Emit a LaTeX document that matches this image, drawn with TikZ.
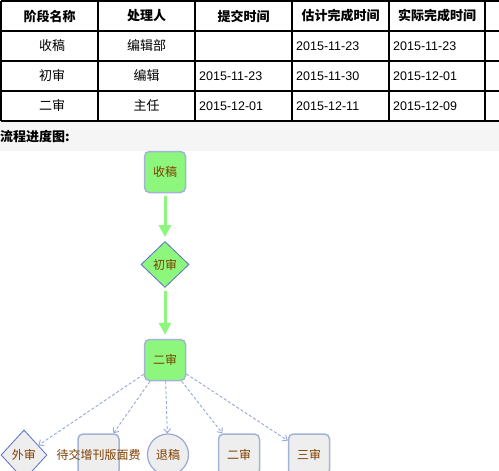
\documentclass[tikz,border=0pt]{standalone}
\usepackage{fontspec}
\setmainfont{Noto Sans CJK SC}
\newfontfamily\datefont{Liberation Sans}
\usetikzlibrary{arrows.meta,shapes.geometric}
\definecolor{stagegreen}{HTML}{8CF77C}
\definecolor{stageborder}{HTML}{A3B3D6}
\definecolor{checkborder}{HTML}{5A6FC8}
\definecolor{stagetext}{HTML}{7F3F00}
\definecolor{linkblue}{HTML}{98A8D8}
\definecolor{bandgray}{HTML}{F5F5F5}
\definecolor{todogray}{HTML}{EEEEEE}

\tikzset{cell/.style={inner sep=0pt,font=\fontsize{13}{15}\selectfont}}
\tikzset{head/.style={cell,font=\fontsize{13}{15}\selectfont\bfseries}}
\tikzset{date/.style={inner sep=0pt,anchor=west,font=\datefont\fontsize{12.5}{15}\selectfont}}
\tikzset{stage/.style={draw=stageborder,line width=1.5pt,rounded corners=5pt,minimum size=41pt,inner sep=0pt,text=stagetext,font=\fontsize{12}{14}\selectfont}}
\tikzset{done/.style={stage,fill=stagegreen}}
\tikzset{todo/.style={stage,fill=todogray}}
\tikzset{check/.style={diamond,draw=checkborder,line width=0.8pt,inner sep=0pt,text=stagetext,font=\fontsize{12}{14}\selectfont}}
\tikzset{flow/.style={draw=stagegreen,line width=3pt,-{Triangle[length=12pt,width=12pt]},shorten <=3pt,shorten >=4pt}}
\tikzset{link/.style={draw=linkblue,line width=0.9pt,dash pattern=on 3pt off 2pt,-{Straight Barb[length=4pt,width=7pt]}}}

\begin{document}
\begin{tikzpicture}[x=1pt,y=-1pt]
	\useasboundingbox[fill=white] (0,0) rectangle (499,471);
	\fill[bandgray] (0,122) rectangle (499,151);
	
	% table grid
	\foreach \y in {1,31,61,91,121}
		\draw[line width=1.2pt] (1,\y) -- (499,\y);
	\foreach \x in {1,98,195,292,389,485}
		\draw[line width=1.2pt] (\x,1) -- (\x,121);
	
	% header
	\foreach \x/\t [count=\i] in {49.5/阶段名称,146.5/处理人,243.5/提交时间,340.5/估计完成时间,437/实际完成时间}
		\node[head] (h\i) at (\x,16) {\t};
	
	% rows
	\node[cell] (r1c1) at (52,46) {收稿};
	\node[cell] (r1c2) at (146.5,46) {编辑部};
	\node[date] (r1c4) at (296,46) {2015-11-23};
	\node[date] (r1c5) at (393,46) {2015-11-23};
	\node[cell] (r2c1) at (52,76) {初审};
	\node[cell] (r2c2) at (146.5,76) {编辑};
	\node[date] (r2c3) at (199,76) {2015-11-23};
	\node[date] (r2c4) at (296,76) {2015-11-30};
	\node[date] (r2c5) at (393,76) {2015-12-01};
	\node[cell] (r3c1) at (52,106) {二审};
	\node[cell] (r3c2) at (146.5,106) {主任};
	\node[date] (r3c3) at (199,106) {2015-12-01};
	\node[date] (r3c4) at (296,106) {2015-12-11};
	\node[date] (r3c5) at (393,106) {2015-12-09};
	
	\node[head,anchor=west] (caption) at (0,137) {流程进度图:};
	
	% flow
	\node[done] (collect) at (165,172) {收稿};
	\node[check,fill=stagegreen,minimum width=48pt,minimum height=46pt] (first) at (165,264.5) {初审};
	\node[done] (second) at (165,360) {二审};
		\path[flow] (collect) -- (first);
		\path[flow] (first) -- (second);
	
	% next steps
	\node[check,fill=todogray,minimum width=46pt,minimum height=50pt] (outside) at (24,455) {外审};
	\node[todo] (pay) at (98.5,454.5) {};
	\node[todo] (again) at (239,454.5) {二审};
	\node[todo] (third) at (309,454.5) {三审};
	\node[stage,circle,fill=todogray,draw=linkblue,line width=1.2pt] (reject) at (168,454.5) {退稿};
	\foreach \n in {outside,pay,reject,again,third}
		\path[link] (second) -- (\n);
	\node[text=stagetext,font=\fontsize{12}{14}\selectfont,inner sep=0pt] (paytext) at (pay) {待交增刊版面费};
	
\end{tikzpicture}
\end{document}
